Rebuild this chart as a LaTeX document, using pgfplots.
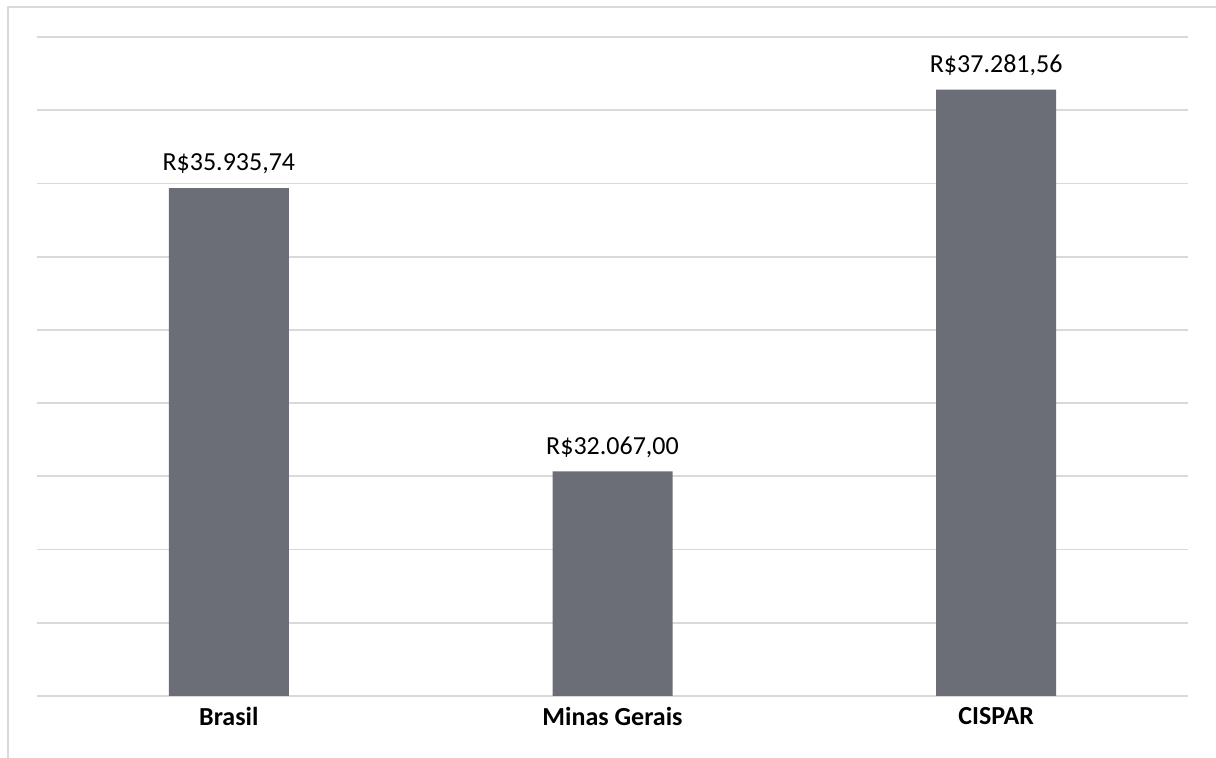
\documentclass[border=0pt]{standalone}
\usepackage{pgfplots}
\pgfplotsset{compat=1.18}
\usepackage{fontspec}
\setmainfont{Carlito}
\definecolor{bargray}{HTML}{6B6E76}
\definecolor{gridgray}{HTML}{D9D9D9}
\begin{document}
\begin{tikzpicture}[x=1pt,y=1pt]
% page area and chart frame (left and top edges)
\path[use as bounding box] (0,0) rectangle (608,379);
\draw[gridgray, line width=1pt] (4,0) -- (4,375.5) -- (608,375.5);
\begin{axis}[
  at={(18.5pt,31pt)}, anchor=south west,
  scale only axis,
  width=575.5pt, height=329.5pt,
  xmin=-0.5, xmax=2.5,
  ymin=29000, ymax=38000,
  ytick={29000,30000,...,38000},
  yticklabels={},
  scaled y ticks=false,
  ymajorgrids,
  grid style={gridgray, line width=0.9pt},
  axis line style={draw=none},
  major tick length=0pt,
  xtick={0,1,2},
  xticklabels={Brasil, Minas Gerais, CISPAR},
  xticklabel style={font=\fontsize{13}{15}\selectfont\bfseries, yshift=-2pt},
  ybar, bar width=60pt, bar shift=0pt,
  point meta=explicit symbolic,
  nodes near coords,
  nodes near coords style={font=\fontsize{13}{15}\selectfont, text=black, anchor=south, yshift=3.5pt},
]
\addplot[fill=bargray, draw=none] coordinates {
  (0,35935.74) [R\$35.935,74]
  (1,32067.00) [R\$32.067,00]
  (2,37281.56) [R\$37.281,56]
};
\end{axis}
\end{tikzpicture}
\end{document}
